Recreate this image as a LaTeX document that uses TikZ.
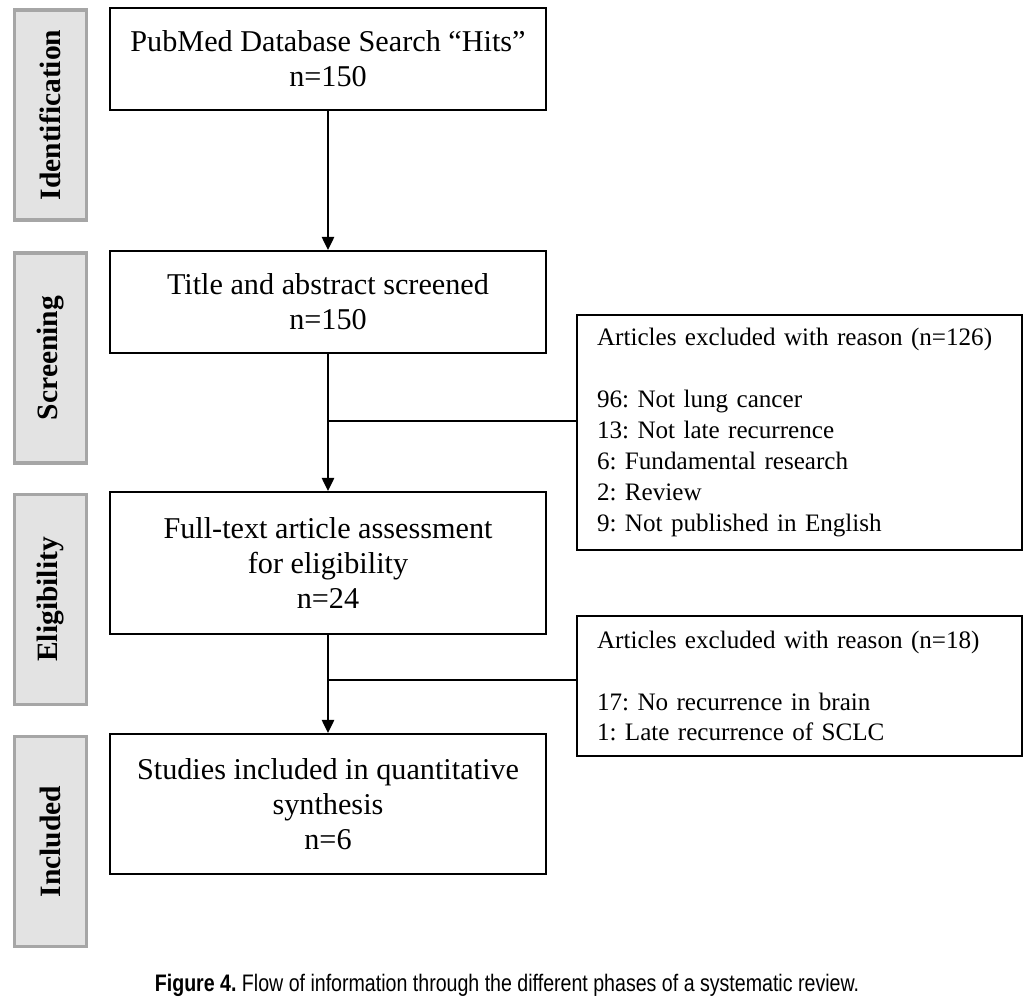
\documentclass[tikz,border=0pt]{standalone}
\usepackage{fontspec}
\setmainfont{Liberation Serif}
\newfontfamily\capfont[FakeStretch=0.82]{Liberation Sans}
\usetikzlibrary{arrows.meta}

\begin{document}
\frenchspacing
\begin{tikzpicture}[x=0.02cm,y=-0.02cm,>={Triangle[width=7pt,length=7.5pt]},line width=1.1pt]
	\tikzstyle{phase}=[draw=gray!70,fill=gray!22,line width=2pt,rotate=90,minimum width=4.2cm,minimum height=1.44cm,inner sep=0pt,font=\fontsize{16.8}{20}\selectfont\bfseries]
	\tikzstyle{flow}=[draw,minimum width=8.72cm,inner sep=0pt,align=center,font=\fontsize{17.2}{19.8}\selectfont]
	\tikzstyle{excl}=[draw,text width=8.1cm,inner xsep=0.4cm,inner ysep=0pt,align=left,font=\fontsize{14.3}{17.6}\selectfont]
	
	\useasboundingbox (0,0) rectangle (1032,1000);
	
	\node[phase](ident) at (50.5,115){Identification};
	\node[phase](screen) at (50.5,358){Screening};
	\node[phase](elig) at (50.5,599.5){Eligibility};
	\node[phase](incl) at (50.5,841.5){Included};
	
	\node[flow,minimum height=2.04cm](hits) at (328,59){PubMed Database Search “Hits”\\n=150};
	\node[flow,minimum height=2.04cm](title) at (328,302){Title and abstract screened\\n=150};
	\node[flow,minimum height=2.84cm](fulltext) at (328,563){Full-text article assessment\\for eligibility\\n=24};
	\node[flow,minimum height=2.8cm](studies) at (328,804){Studies included in quantitative\\synthesis\\n=6};
	
	\node[excl,minimum height=4.7cm](excl1) at (799.5,432.5){Articles excluded with reason (n=126)\\[17.6pt]96: Not lung cancer\\13: Not late recurrence\\6: Fundamental research\\2: Review\\9: Not published in English};
	\node[excl,minimum height=2.8cm](excl2) at (799.5,686){Articles excluded with reason (n=18)\\[17.6pt]17: No recurrence in brain\\1: Late recurrence of SCLC};
	
	\coordinate (j1) at (328,421);
	\coordinate (j2) at (328,680);
	
	\draw[->] (hits) -- (title);
	\draw[->] (title) -- (fulltext);
	\draw[->] (fulltext) -- (studies);
	
	\draw (j1) -- (j1 -| excl1.west);
	\draw (j2) -- (j2 -| excl2.west);
	
	\node[font=\capfont\fontsize{13.6}{16}\selectfont](caption) at (507,985){\textbf{Figure 4.}\ Flow of information through the different phases of a systematic review.};
\end{tikzpicture}
\end{document}
